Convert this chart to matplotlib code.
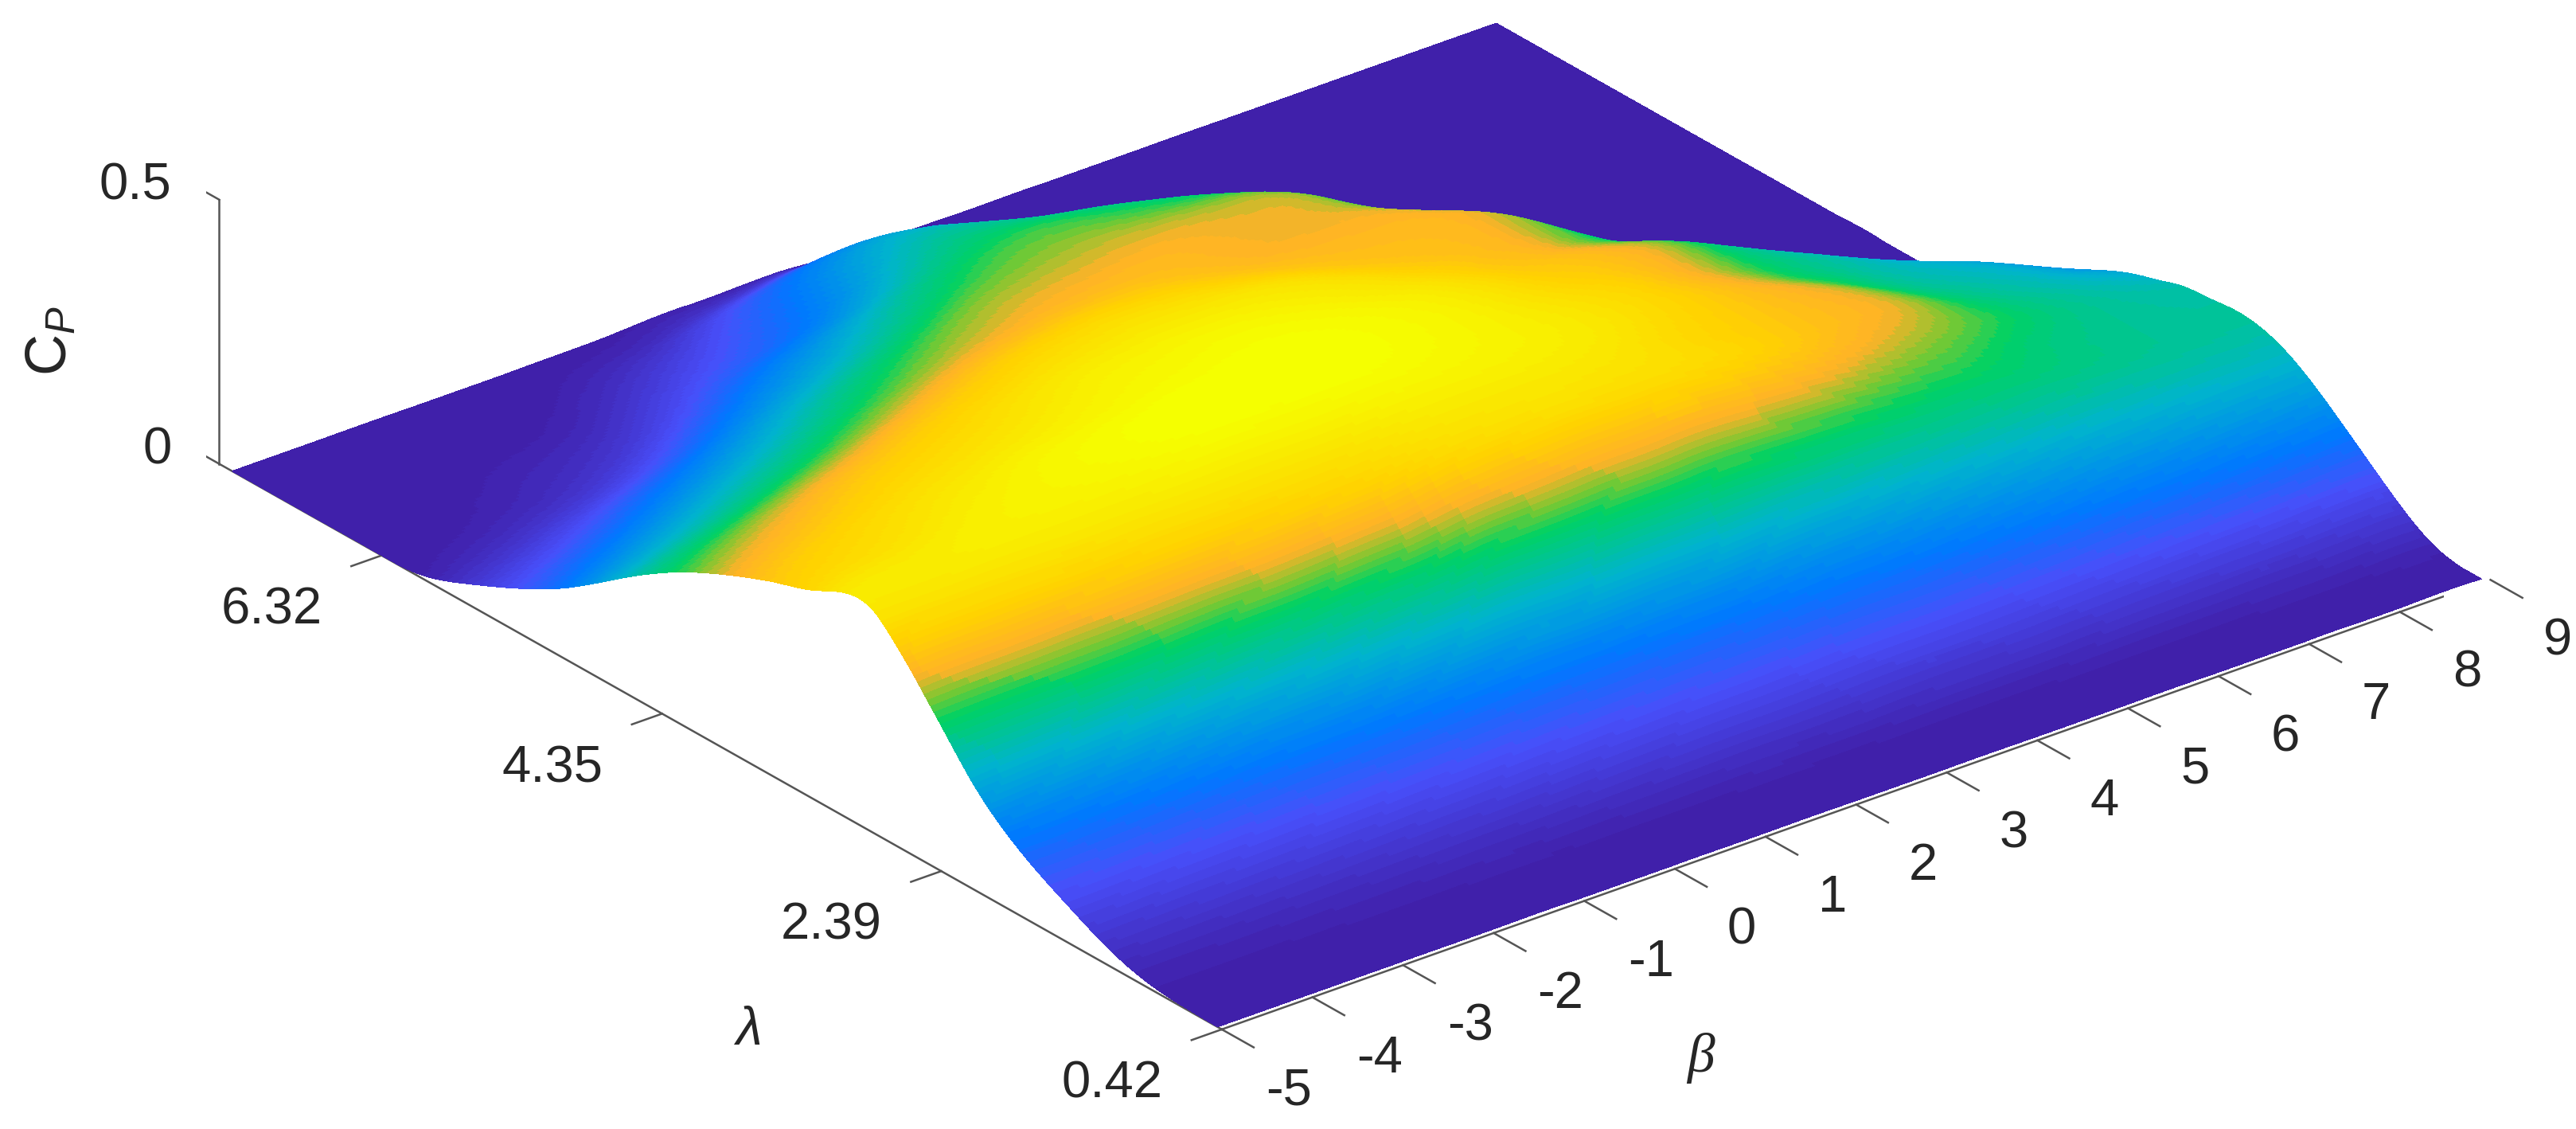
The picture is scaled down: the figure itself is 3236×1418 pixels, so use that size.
import numpy as np
import matplotlib
matplotlib.use('Agg')
import matplotlib.pyplot as plt
import matplotlib.tri as mtri
from matplotlib.colors import LinearSegmentedColormap, Normalize
from mpl_toolkits.mplot3d import proj3d

plt.rcParams['font.family'] = ['Liberation Sans', 'DejaVu Sans']
plt.rcParams['mathtext.fontset'] = 'custom'
plt.rcParams['mathtext.rm'] = 'Liberation Sans'
plt.rcParams['mathtext.it'] = 'Liberation Sans:italic'

# values
beta = [-5, -4, -3, -2, -1, 0, 1, 2, 3, 4, 5, 6, 7, 8, 8.95]
lam = [0.45, 0.80, 1.15, 1.50, 1.85, 2.20, 2.375, 2.55, 2.725, 2.90, 3.25, 3.60, 3.95,
       4.30, 4.65, 5.00, 5.35, 5.70, 6.05, 6.40, 6.75, 7.10, 7.37]
cp = [
    [0, 0, 0, 0, 0, 0, 0, 0, 0, 0, 0, 0, 0, 0, 0],
    [.004, .004, .005, .005, .006, .006, .006, .007, .007, .008, .009, .010, .011, .012, .014],
    [.025, .028, .032, .036, .040, .045, .050, .052, .055, .058, .060, .065, .070, .075, .080],
    [.070, .075, .080, .085, .090, .095, .100, .105, .110, .115, .120, .130, .140, .150, .160],
    [.125, .130, .140, .150, .155, .165, .170, .175, .180, .190, .200, .210, .220, .225, .225],
    [.210, .220, .230, .240, .250, .260, .275, .280, .285, .285, .280, .275, .265, .250, .245],
    [.270, .275, .280, .290, .295, .305, .325, .335, .340, .335, .320, .298, .270, .250, .240],
    [.330, .335, .340, .345, .350, .360, .385, .395, .395, .385, .355, .320, .283, .250, .235],
    [.385, .390, .390, .395, .395, .400, .415, .420, .415, .395, .365, .335, .283, .245, .220],
    [.425, .425, .425, .425, .425, .425, .435, .435, .425, .395, .365, .335, .275, .235, .205],
    [.400, .420, .440, .455, .468, .470, .467, .452, .430, .400, .360, .312, .250, .215, .160],
    [.365, .395, .420, .440, .455, .465, .465, .450, .420, .385, .345, .285, .235, .180, .105],
    [.325, .360, .390, .410, .435, .447, .447, .430, .400, .365, .335, .275, .200, .100, .050],
    [.275, .315, .350, .380, .405, .420, .420, .405, .370, .350, .300, .220, .120, .020, .003],
    [.210, .250, .290, .330, .365, .385, .385, .365, .350, .345, .280, .130, .040, 0, 0],
    [.140, .185, .230, .275, .315, .340, .350, .345, .335, .310, .190, .060, 0, 0, 0],
    [.085, .125, .170, .220, .270, .310, .325, .330, .325, .270, .100, .015, 0, 0, 0],
    [.040, .070, .110, .160, .210, .265, .300, .300, .285, .200, .030, 0, 0, 0, 0],
    [.005, .025, .050, .100, .155, .210, .265, .260, .220, .100, 0, 0, 0, 0, 0],
    [0, .005, .020, .050, .100, .150, .225, .190, .120, .020, 0, 0, 0, 0, 0],
    [0, 0, .005, .020, .060, .120, .165, .110, .040, 0, 0, 0, 0, 0, 0],
    [0, 0, 0, .004, .020, .050, .070, .020, 0, 0, 0, 0, 0, 0, 0],
    [0, 0, 0, 0, .002, .008, .010, 0, 0, 0, 0, 0, 0, 0, 0],
]

beta_ticks = [-5, -4, -3, -2, -1, 0, 1, 2, 3, 4, 5, 6, 7, 8, 9]
lam_ticks = [0.42, 2.39, 4.35, 6.32]
cp_ticks = [0, 0.5]

cmap_stops = [0, .17, .28, .45, .60, .655, .72, .82, 1]
cmap_colors = ['#4020AA', '#484FFA', '#0078FF', '#00B4CD', '#00D264',
               '#78C832', '#FFB228', '#FFD200', '#F5FF00']
cmap = LinearSegmentedColormap.from_list('cp', list(zip(cmap_stops, cmap_colors)), N=64)

BETA_MIN, BETA_MAX = -5, 9
LAM_MIN, LAM_MAX = 0.42, 7.46
FS = 47
TXT = '#262626'

fig = plt.figure(figsize=(32.36, 14.18), dpi=100)
S = 2811
ax = fig.add_axes([258.5 / 3236, -515 / 1418, S / 3236, S / 1418], projection='3d')
ax.set_proj_type('ortho')
ax.view_init(elev=26.55, azim=-128.4)
ax.set_box_aspect((2034, 2028, 371))
ax.set_xlim(BETA_MIN, BETA_MAX)
ax.set_ylim(LAM_MIN, LAM_MAX)
ax.set_zlim(0, 0.5)
ax.set_axis_off()
ax.computed_zorder = False
ax.patch.set_alpha(0)


def label(x, y, z, s, **kw):
    # plain 2D text at the projected point, Text3D ignores rotation
    px, py, _ = proj3d.proj_transform(x, y, z, ax.get_proj())
    kw.setdefault('fontsize', FS)
    kw.setdefault('ha', 'center')
    kw.setdefault('va', 'center')
    ax.text2D(px, py, s, transform=ax.transData, color=TXT, **kw)


# table -> smooth sheet for display only, the table above is the data
B, L = np.meshgrid(beta, lam)
tri = mtri.Triangulation(B.ravel(), L.ravel())
interp = mtri.CubicTriInterpolator(tri, np.array(cp, dtype=float).ravel(), kind='min_E')
bf, lf = np.meshgrid(np.linspace(beta[0], beta[-1], 300), np.linspace(lam[0], lam[-1], 300))
zf = np.clip(np.ma.filled(interp(bf, lf), 0), 0, None)
surf = ax.plot_surface(bf, lf, zf, rstride=1, cstride=1, cmap=cmap, norm=Normalize(0, 0.47),
                       linewidth=0, antialiased=False, shade=False, zorder=3)
surf.set_clip_on(False)

axc = '#555555'
lw = 1.8
ax.plot([BETA_MIN, BETA_MAX], [LAM_MIN, LAM_MIN], [0, 0], color=axc, lw=lw, zorder=1)
ax.plot([BETA_MIN, BETA_MIN], [LAM_MIN, LAM_MAX], [0, 0], color=axc, lw=lw, zorder=1)
ax.plot([BETA_MIN, BETA_MIN], [LAM_MAX, LAM_MAX], [0, 0.5], color=axc, lw=lw, zorder=1)

for b in beta_ticks:
    ln, = ax.plot([b, b], [LAM_MIN, LAM_MIN - 0.224], [0, 0], color=axc, lw=lw, zorder=1)
    ln.set_clip_on(False)
    label(b, LAM_MIN - 0.47, -0.045, str(b))
for l in lam_ticks:
    ax.plot([BETA_MIN, BETA_MIN - 0.334], [l, l], [0, 0], color=axc, lw=lw, zorder=1)
    label(BETA_MIN - 1.21, l, -0.03, '%.2f' % l)
for z in cp_ticks:
    ax.plot([BETA_MIN, BETA_MIN], [LAM_MAX, LAM_MAX + 0.207], [z, z], color=axc, lw=lw, zorder=1)
    label(BETA_MIN, LAM_MAX + 0.335, z - 0.025, '%g' % z, ha='right')

label(-8.15, 1.74, -0.012, '\u03bb', fontsize=48, style='italic')
label(-2.10, -1.10, 0, '\u03b2', fontsize=50, style='italic', family='Liberation Serif')
label(BETA_MIN, LAM_MAX + 1.175, 0.055, r'$\mathrm{C}_{\mathit{P}}$', fontsize=52, rotation=90)

fig.savefig('out.png', dpi=100)
